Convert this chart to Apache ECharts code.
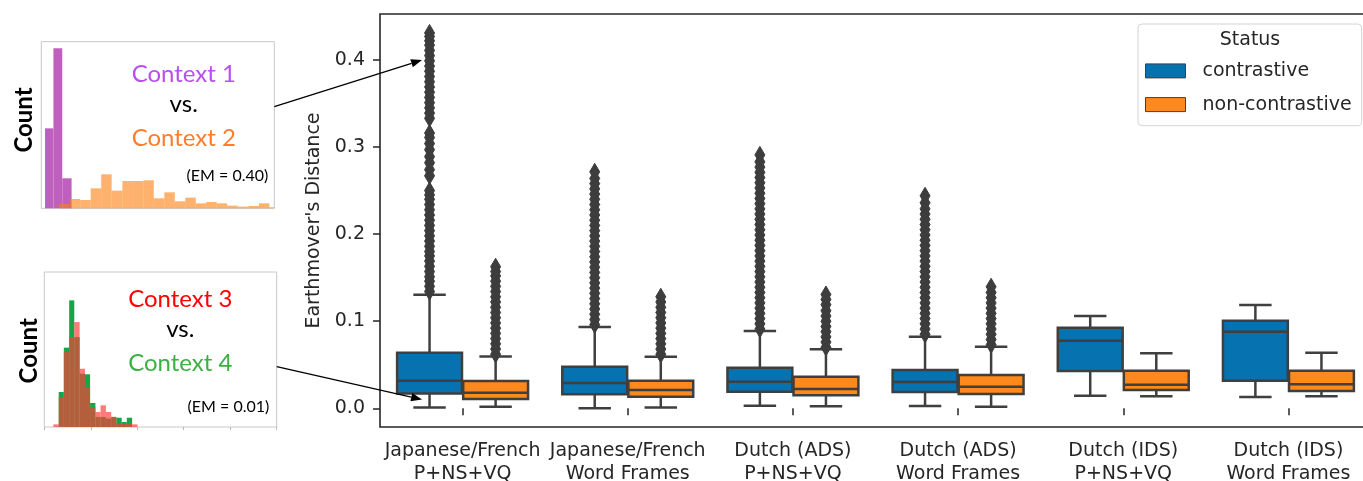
<!DOCTYPE html>
<html>
<head>
<meta charset="utf-8">
<script src="https://cdn.jsdelivr.net/npm/echarts@6/dist/echarts.min.js"></script>
<style>
  html, body { margin: 0; padding: 0; background: #ffffff; }
  #chart { width: 1363px; height: 481px; }
</style>
</head>
<body>
<div id="chart"></div>
<script>
// ---- Box plot data -------------------------------------------------------
const categories = [
  'Japanese/French\nP+NS+VQ',
  'Japanese/French\nWord Frames',
  'Dutch (ADS)\nP+NS+VQ',
  'Dutch (ADS)\nWord Frames',
  'Dutch (IDS)\nP+NS+VQ',
  'Dutch (IDS)\nWord Frames'
];
const statusNames = ['contrastive', 'non-contrastive'];
const yTickValues = [0, 0.1, 0.2, 0.3, 0.4];

// [low whisker, Q1, median, Q3, high whisker]
const contrastiveBoxes = [
  [0.001, 0.017, 0.0315, 0.0637, 0.1305],
  [0.000, 0.0161, 0.029, 0.0478, 0.0933],
  [0.003, 0.019, 0.0306, 0.0466, 0.0888],
  [0.0026, 0.0187, 0.0302, 0.044, 0.0822],
  [0.0145, 0.0428, 0.0776, 0.0925, 0.106],
  [0.013, 0.0317, 0.088, 0.1006, 0.1186]
];
const nonContrastiveBoxes = [
  [0.0018, 0.0107, 0.0179, 0.0313, 0.0594],
  [0.001, 0.0133, 0.021, 0.0317, 0.0593],
  [0.0023, 0.0149, 0.0222, 0.0363, 0.0677],
  [0.0018, 0.0164, 0.0248, 0.0382, 0.0707],
  [0.0138, 0.021, 0.0271, 0.0432, 0.0631],
  [0.0138, 0.0199, 0.0276, 0.0432, 0.0638]
];

// Outliers above the upper whiskers
const contrastiveOutliers = [
  [0.134, 0.140, 0.146, 0.151, 0.157, 0.163, 0.169, 0.175, 0.180, 0.186, 0.192, 0.198, 0.204, 0.210,
   0.216, 0.222, 0.228, 0.234, 0.240, 0.245, 0.250,
   0.267, 0.274, 0.282, 0.289, 0.297, 0.304, 0.311, 0.316,
   0.333, 0.339, 0.345, 0.351, 0.357, 0.363, 0.369, 0.375, 0.381, 0.387, 0.393, 0.399, 0.405, 0.411,
   0.417, 0.422, 0.427, 0.431],
  [0.096, 0.102, 0.108, 0.114, 0.120, 0.126, 0.132, 0.138, 0.144, 0.150, 0.156, 0.162, 0.168, 0.174,
   0.180, 0.186, 0.192, 0.198, 0.204, 0.210, 0.216, 0.222, 0.228, 0.234, 0.240, 0.246, 0.252, 0.258,
   0.264, 0.2715],
  [0.091, 0.097, 0.103, 0.109, 0.115, 0.121, 0.127, 0.133, 0.139, 0.145, 0.151, 0.157, 0.163, 0.169,
   0.175, 0.181, 0.187, 0.193, 0.199, 0.205, 0.211, 0.217, 0.223, 0.229, 0.235, 0.241, 0.247, 0.253,
   0.259, 0.265, 0.271, 0.277, 0.283, 0.291],
  [0.085, 0.091, 0.097, 0.103, 0.109, 0.115, 0.121, 0.127, 0.133, 0.139, 0.145, 0.151, 0.157, 0.163,
   0.169, 0.175, 0.181, 0.187, 0.193, 0.199, 0.205, 0.211, 0.217, 0.223, 0.229, 0.236, 0.244],
  [],
  []
];
const nonContrastiveOutliers = [
  [0.062, 0.068, 0.074, 0.080, 0.086, 0.092, 0.098, 0.104, 0.110, 0.116, 0.122, 0.128, 0.134, 0.140,
   0.146, 0.152, 0.157, 0.1625],
  [0.062, 0.068, 0.074, 0.080, 0.086, 0.092, 0.098, 0.104, 0.110, 0.116, 0.122, 0.128],
  [0.070, 0.076, 0.082, 0.088, 0.094, 0.100, 0.106, 0.112, 0.119, 0.125, 0.1307],
  [0.073, 0.079, 0.085, 0.091, 0.097, 0.103, 0.109, 0.115, 0.121, 0.127, 0.133, 0.1395],
  [],
  []
];

// Earthmover's distances of the two example context pairs
const emValues = [0.40, 0.01];

// ---- Example histograms (arbitrary units) --------------------------------
const context1Edges = [1.6, 5.2, 9.0, 13.0];
const context1Counts = [48, 96, 18];
const context2Edges = [7.7, 12.2, 16.7, 21.2, 25.7, 30.2, 34.8, 39.3, 43.8, 48.3, 52.8, 57.3, 61.8,
  66.3, 70.8, 75.3, 79.8, 84.3, 88.9, 93.4, 97.9, 100];
const context2Counts = [2.6, 5.6, 5.0, 12.0, 20.4, 10.6, 16.4, 16.4, 16.8, 6.0, 9.6, 4.2, 6.4, 3.0,
  3.8, 3.0, 1.6, 1.0, 1.4, 3.0, 0.6];

const histEdges2 = [3.9, 6.2, 8.4, 10.7, 12.9, 15.2, 17.5, 19.7, 22.0, 24.2, 26.5, 28.8, 31.0, 33.3,
  35.5, 37.8, 40.1];
const context4Counts = [0, 22.6, 51.2, 81.7, 58, 34.4, 34, 15.5, 6.5, 6.5, 5.4, 6.5, 6, 3.2, 6, 0];
const context3Counts = [1.7, 19.4, 48.4, 58, 67.7, 37.6, 25.8, 12.9, 9.7, 14, 9.7, 6.5, 2.2, 2, 2.2, 1.7];

// ---- Styling -------------------------------------------------------------
const BLUE = '#0672b0';
const ORANGE = '#ff891c';
const EDGE = '#3f3f3f';
const FLIER = '#3d3d3d';
const INK = '#262626';
const AXIS_FONT = 'DejaVu Sans';
const NOTE_FONT = 'Lato';

function toBins(edges, counts) {
  return counts.map((c, i) => [edges[i], edges[i + 1], c]);
}

function boxRenderer(side, fill) {
  return function (params, api) {
    const cat = api.value(0);
    const band = api.size([1, 0])[0];
    const cx = api.coord([cat, 0])[0] + side * 0.2 * band;
    const half = 0.2 * band - 0.6;
    const capHalf = half / 2;
    const y = (i) => api.coord([cat, api.value(i)])[1];
    const yLow = y(1), yQ1 = y(2), yMed = y(3), yQ3 = y(4), yHigh = y(5);
    const ls = { stroke: EDGE, lineWidth: 2.5 };
    return {
      type: 'group',
      children: [
        { type: 'line', shape: { x1: cx, y1: yLow, x2: cx, y2: yQ1 }, style: ls },
        { type: 'line', shape: { x1: cx, y1: yQ3, x2: cx, y2: yHigh }, style: ls },
        { type: 'line', shape: { x1: cx - capHalf, y1: yLow, x2: cx + capHalf, y2: yLow }, style: ls },
        { type: 'line', shape: { x1: cx - capHalf, y1: yHigh, x2: cx + capHalf, y2: yHigh }, style: ls },
        { type: 'rect', shape: { x: cx - half, y: yQ3, width: 2 * half, height: yQ1 - yQ3 },
          style: { fill: fill, stroke: EDGE, lineWidth: 2.5 } },
        { type: 'line', shape: { x1: cx - half, y1: yMed, x2: cx + half, y2: yMed }, style: ls }
      ]
    };
  };
}

function flierRenderer(side) {
  return function (params, api) {
    const cat = api.value(0);
    const band = api.size([1, 0])[0];
    const p = api.coord([cat, api.value(1)]);
    const cx = p[0] + side * 0.2 * band;
    const cy = p[1];
    const hw = 5, hh = 8.5;
    return {
      type: 'polygon',
      shape: { points: [[cx, cy - hh], [cx + hw, cy], [cx, cy + hh], [cx - hw, cy]] },
      style: { fill: FLIER, stroke: FLIER, lineWidth: 1 }
    };
  };
}

function histRenderer(color, opacity) {
  return function (params, api) {
    const a = api.coord([api.value(0), api.value(2)]);
    const b = api.coord([api.value(1), 0]);
    return {
      type: 'rect',
      shape: { x: a[0], y: a[1], width: b[0] - a[0], height: b[1] - a[1] },
      style: { fill: color, opacity: opacity }
    };
  };
}

function flattenOutliers(lists) {
  const out = [];
  lists.forEach((vals, i) => vals.forEach(v => out.push([i, v])));
  return out;
}

const chart = echarts.init(document.getElementById('chart'), null, { renderer: 'canvas' });

const option = {
  animation: false,
  backgroundColor: '#ffffff',
  grid: [
    { left: 380, top: 14, width: 991, height: 413, show: true, borderColor: INK, borderWidth: 1.6,
      outerBoundsMode: 'none', containLabel: false },
    { left: 41.3, top: 41.7, width: 233, height: 166.6, show: true, borderColor: '#c8c8c8', borderWidth: 1,
      outerBoundsMode: 'none', containLabel: false },
    { left: 44.3, top: 272, width: 232.4, height: 155, show: true, borderColor: '#c8c8c8', borderWidth: 1,
      outerBoundsMode: 'none', containLabel: false }
  ],
  xAxis: [
    {
      type: 'category', gridIndex: 0, data: categories,
      axisLine: { show: false },
      axisTick: { show: true, alignWithLabel: true, length: 7, lineStyle: { color: INK, width: 1.5 } },
      axisLabel: { interval: 0, fontFamily: AXIS_FONT, fontSize: 19, color: INK, lineHeight: 22.5, margin: 13 },
      splitLine: { show: false }
    },
    { type: 'value', gridIndex: 1, min: 0, max: 100, show: false },
    {
      type: 'value', gridIndex: 2, min: 0, max: 100, interval: 20,
      axisLine: { show: false },
      axisTick: { show: true, length: 3, lineStyle: { color: '#b8b8b8' } },
      axisLabel: { show: false },
      splitLine: { show: false }
    }
  ],
  yAxis: [
    {
      type: 'value', gridIndex: 0, min: -0.0215, max: 0.4528,
      name: "Earthmover's Distance", nameLocation: 'middle', nameGap: 53,
      nameTextStyle: { fontFamily: AXIS_FONT, fontSize: 19, color: INK },
      axisLine: { show: false },
      axisTick: { show: true, length: 7, customValues: yTickValues, lineStyle: { color: INK, width: 1.5 } },
      axisLabel: { customValues: yTickValues, formatter: v => v.toFixed(1), fontFamily: AXIS_FONT,
        fontSize: 19, color: INK, margin: 15 },
      splitLine: { show: false }
    },
    { type: 'value', gridIndex: 1, min: 0, max: 100, show: false },
    { type: 'value', gridIndex: 2, min: 0, max: 100, show: false }
  ],
  legend: {
    orient: 'vertical', left: 1138, top: 24,
    padding: [37.4, 10, 11.6, 7],
    itemWidth: 40, itemHeight: 14, itemGap: 14.7,
    backgroundColor: '#ffffff', borderColor: '#d4d4d4', borderWidth: 1, borderRadius: 4,
    selectedMode: false,
    textStyle: { fontFamily: AXIS_FONT, fontSize: 19, color: INK, lineHeight: 14, padding: [0, 0, 0, 12] },
    data: [
      { name: statusNames[0], icon: 'rect', itemStyle: { color: BLUE, borderColor: EDGE, borderWidth: 1 } },
      { name: statusNames[1], icon: 'rect', itemStyle: { color: ORANGE, borderColor: EDGE, borderWidth: 1 } }
    ]
  },
  series: [
    {
      type: 'custom', name: statusNames[0], xAxisIndex: 0, yAxisIndex: 0,
      data: contrastiveBoxes.map((b, i) => [i].concat(b)),
      encode: { x: 0, y: [1, 2, 3, 4, 5] },
      itemStyle: { color: BLUE },
      renderItem: boxRenderer(-1, BLUE), z: 3
    },
    {
      type: 'custom', name: statusNames[1], xAxisIndex: 0, yAxisIndex: 0,
      data: nonContrastiveBoxes.map((b, i) => [i].concat(b)),
      encode: { x: 0, y: [1, 2, 3, 4, 5] },
      itemStyle: { color: ORANGE },
      renderItem: boxRenderer(1, ORANGE), z: 3
    },
    {
      type: 'custom', name: 'contrastive fliers', xAxisIndex: 0, yAxisIndex: 0,
      data: flattenOutliers(contrastiveOutliers), encode: { x: 0, y: 1 },
      renderItem: flierRenderer(-1), z: 4
    },
    {
      type: 'custom', name: 'non-contrastive fliers', xAxisIndex: 0, yAxisIndex: 0,
      data: flattenOutliers(nonContrastiveOutliers), encode: { x: 0, y: 1 },
      renderItem: flierRenderer(1), z: 4
    },
    {
      type: 'custom', name: 'Context 1', xAxisIndex: 1, yAxisIndex: 1,
      data: toBins(context1Edges, context1Counts), encode: { x: [0, 1], y: 2 },
      renderItem: histRenderer('rgb(192,96,190)', 1), z: 2
    },
    {
      type: 'custom', name: 'Context 2', xAxisIndex: 1, yAxisIndex: 1,
      data: toBins(context2Edges, context2Counts), encode: { x: [0, 1], y: 2 },
      renderItem: histRenderer('rgb(255,127,14)', 0.6), z: 2
    },
    {
      type: 'custom', name: 'Context 4', xAxisIndex: 2, yAxisIndex: 2,
      data: toBins(histEdges2, context4Counts), encode: { x: [0, 1], y: 2 },
      renderItem: histRenderer('rgb(20,166,72)', 1), z: 2
    },
    {
      type: 'custom', name: 'Context 3', xAxisIndex: 2, yAxisIndex: 2,
      data: toBins(histEdges2, context3Counts), encode: { x: [0, 1], y: 2 },
      renderItem: histRenderer('rgb(255,61,54)', 0.68), z: 2
    }
  ]
};

chart.setOption(option);

// ---- Annotations: inset labels, legend title and the pointer arrows -------
function noteText(x, y, text, color, size, opts) {
  const o = opts || {};
  return {
    type: 'text', x: x, y: y, rotation: o.rotation || 0, z: 20,
    style: {
      text: text, fill: color, fontFamily: o.family || NOTE_FONT, fontSize: size,
      fontWeight: o.weight || 'normal', align: o.align || 'center', verticalAlign: 'middle'
    }
  };
}

function arrow(from, to) {
  const dx = to[0] - from[0], dy = to[1] - from[1];
  const len = Math.sqrt(dx * dx + dy * dy);
  const ux = dx / len, uy = dy / len;
  const headLen = 11, headHalf = 4.2;
  const bx = to[0] - ux * headLen, by = to[1] - uy * headLen;
  return [
    { type: 'line', z: 30, shape: { x1: from[0], y1: from[1], x2: bx, y2: by },
      style: { stroke: '#000', lineWidth: 1.3 } },
    { type: 'polygon', z: 30,
      shape: { points: [[to[0], to[1]], [bx - uy * headHalf, by + ux * headHalf], [bx + uy * headHalf, by - ux * headHalf]] },
      style: { fill: '#000' } }
  ];
}

const c0 = chart.convertToPixel({ xAxisIndex: 0 }, 0);
const c1 = chart.convertToPixel({ xAxisIndex: 0 }, 1);
const band = c1 - c0;
const tipX = c0 - 0.2 * band - 7.5;
const tip1 = [tipX, chart.convertToPixel({ yAxisIndex: 0 }, emValues[0])];
const tip2 = [tipX, chart.convertToPixel({ yAxisIndex: 0 }, emValues[1])];
const start1 = chart.convertToPixel({ xAxisIndex: 1, yAxisIndex: 1 }, [100, 61]);
const start2 = chart.convertToPixel({ xAxisIndex: 2, yAxisIndex: 2 }, [100, 39]);

const graphics = [
  noteText(24.2, 120, 'Count', '#000', 24, { rotation: Math.PI / 2, weight: 'bold' }),
  noteText(183.8, 74, 'Context 1', '#b94ef2', 24),
  noteText(183.7, 104.5, 'vs.', '#000', 24),
  noteText(183.8, 138.5, 'Context 2', '#ff7d2a', 24),
  noteText(268.3, 175.5, '(EM = ' + emValues[0].toFixed(2) + ')', '#000', 16, { align: 'right' }),

  noteText(29.4, 350.8, 'Count', '#000', 24, { rotation: Math.PI / 2, weight: 'bold' }),
  noteText(180.3, 298.8, 'Context 3', '#ff0000', 24),
  noteText(180.3, 329.5, 'vs.', '#000', 24),
  noteText(180.3, 362.8, 'Context 4', '#3cb043', 24),
  noteText(269.3, 407, '(EM = ' + emValues[1].toFixed(2) + ')', '#000', 16, { align: 'right' }),

  noteText(1250, 40, 'Status', INK, 19, { family: AXIS_FONT })
].concat(arrow(start1, tip1), arrow(start2, tip2));

chart.setOption({ graphic: graphics });
</script>
</body>
</html>
